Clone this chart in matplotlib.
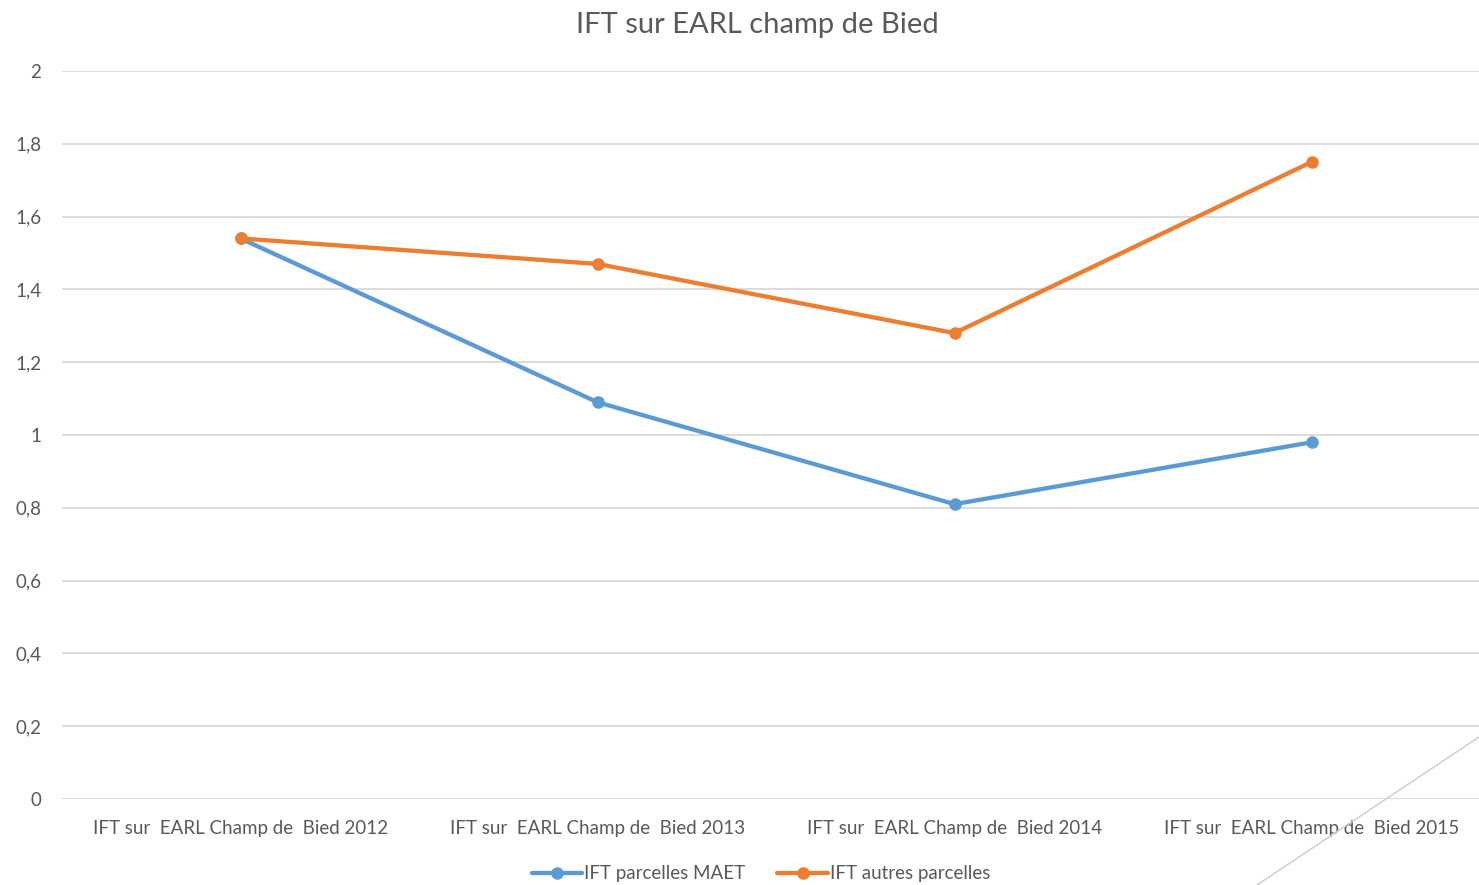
import matplotlib

matplotlib.use("Agg")
import matplotlib.pyplot as plt
from matplotlib.lines import Line2D
from matplotlib.ticker import FuncFormatter

categories = [
    "IFT sur  EARL Champ de  Bied 2012",
    "IFT sur  EARL Champ de  Bied 2013",
    "IFT sur  EARL Champ de  Bied 2014",
    "IFT sur  EARL Champ de  Bied 2015",
]
ift_maet = [1.54, 1.09, 0.81, 0.98]
ift_autres = [1.54, 1.47, 1.28, 1.75]
y_ticks = [0, 0.2, 0.4, 0.6, 0.8, 1.0, 1.2, 1.4, 1.6, 1.8, 2.0]

BLUE = "#5B9BD5"
ORANGE = "#ED7D31"
TEXT = "#595959"
GRID = "#D9D9D9"

plt.rcParams["font.family"] = ["Lato", "DejaVu Sans"]

W, H = 1479, 885
fig = plt.figure(figsize=(W / 100, H / 100), dpi=100)
# plot area runs a little past the right edge, as in the source
ax = fig.add_axes([62 / W, 86 / H, 1428 / W, 728 / H])

x = list(range(len(categories)))
ax.plot(x, ift_maet, color=BLUE, lw=3.1, marker="o", ms=8,
        label="IFT parcelles MAET", zorder=3, solid_capstyle="round")
ax.plot(x, ift_autres, color=ORANGE, lw=3.1, marker="o", ms=8,
        label="IFT autres parcelles", zorder=4, solid_capstyle="round")

ax.set_xlim(-0.5, len(categories) - 0.5)
ax.set_ylim(0, 2)
ax.set_yticks(y_ticks)
ax.yaxis.set_major_formatter(
    FuncFormatter(lambda v, _: f"{v:.1f}".rstrip("0").rstrip(".").replace(".", ","))
)
ax.set_xticks(x)
ax.set_xticklabels(categories)
ax.tick_params(axis="both", length=0, labelsize=13.5, colors=TEXT)
ax.tick_params(axis="y", pad=15)
ax.tick_params(axis="x", pad=15)
ax.grid(axis="y", color=GRID, lw=1.3)
ax.set_axisbelow(True)
for side in ["top", "right", "left", "bottom"]:
    ax.spines[side].set_visible(False)

fig.text(757 / W, 1 - 25 / H, "IFT sur EARL champ de Bied", ha="center",
         va="center", fontsize=21, color=TEXT)

fig.legend(loc="center", bbox_to_anchor=(761 / W, 1 - 874 / H), ncol=2,
           frameon=False, fontsize=13.5, labelcolor=TEXT, handlelength=2.7,
           handletextpad=0.1, columnspacing=1.7)

# stray diagonal line in the lower right corner
fig.add_artist(Line2D([1257 / W, 1.0], [0, 1 - 737 / H],
                      transform=fig.transFigure, color="#D0D0D0", lw=1.1))

fig.savefig("out.png", dpi=100)
